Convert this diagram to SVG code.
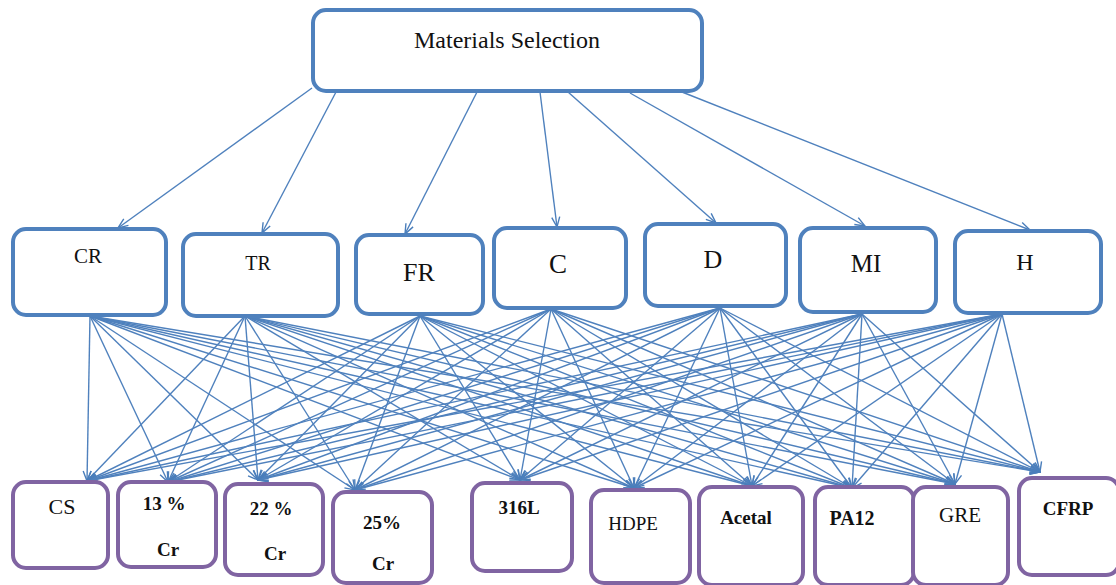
<svg xmlns="http://www.w3.org/2000/svg" width="1116" height="585" viewBox="0 0 1116 585">
<defs>
<marker id="arr" viewBox="0 0 12 10" refX="11" refY="5" markerWidth="12" markerHeight="10" markerUnits="userSpaceOnUse" orient="auto">
<path d="M1,1 L11,5 L1,9" fill="none" stroke="#4A7EBB" stroke-width="1.4"/>
</marker>
<style>
.crit{fill:#fff;stroke:#4F81BD;stroke-width:4}
.mat{fill:#fff;stroke:#8064A2;stroke-width:4}
.t{font-family:"Liberation Serif","Times New Roman",serif;fill:#111;text-anchor:middle}
.b{font-weight:bold}
#connectors line{stroke:#4F81BD;stroke-width:1.4;marker-end:url(#arr)}
</style>
</defs>
<rect width="1116" height="585" fill="#fff"/>
<g id="connectors">
<line x1="312" y1="88" x2="118" y2="228"/>
<line x1="336" y1="92" x2="262" y2="233"/>
<line x1="477" y1="92" x2="405" y2="234"/>
<line x1="540" y1="92" x2="557" y2="227"/>
<line x1="568" y1="92" x2="716" y2="223"/>
<line x1="630" y1="93" x2="865" y2="226"/>
<line x1="682" y1="92" x2="1030" y2="230"/>
<!-- CR -->
<line x1="90" y1="316" x2="87" y2="481"/>
<line x1="90" y1="316" x2="168" y2="482"/>
<line x1="90" y1="316" x2="258" y2="480"/>
<line x1="90" y1="316" x2="355" y2="490"/>
<line x1="90" y1="316" x2="520" y2="480"/>
<line x1="90" y1="316" x2="634" y2="488"/>
<line x1="90" y1="316" x2="752" y2="486"/>
<line x1="90" y1="316" x2="852" y2="488"/>
<line x1="90" y1="316" x2="955" y2="484"/>
<line x1="90" y1="316" x2="1040" y2="472"/>
<!-- TR -->
<line x1="245" y1="316" x2="87" y2="481"/>
<line x1="245" y1="316" x2="168" y2="482"/>
<line x1="245" y1="316" x2="258" y2="480"/>
<line x1="245" y1="316" x2="355" y2="490"/>
<line x1="245" y1="316" x2="520" y2="480"/>
<line x1="245" y1="316" x2="634" y2="488"/>
<line x1="245" y1="316" x2="752" y2="486"/>
<line x1="245" y1="316" x2="852" y2="488"/>
<line x1="245" y1="316" x2="955" y2="484"/>
<line x1="245" y1="316" x2="1040" y2="472"/>
<!-- FR -->
<line x1="420" y1="316" x2="87" y2="481"/>
<line x1="420" y1="316" x2="168" y2="482"/>
<line x1="420" y1="316" x2="258" y2="480"/>
<line x1="420" y1="316" x2="355" y2="490"/>
<line x1="420" y1="316" x2="520" y2="480"/>
<line x1="420" y1="316" x2="634" y2="488"/>
<line x1="420" y1="316" x2="752" y2="486"/>
<line x1="420" y1="316" x2="852" y2="488"/>
<line x1="420" y1="316" x2="955" y2="484"/>
<line x1="420" y1="316" x2="1040" y2="472"/>
<!-- C -->
<line x1="551" y1="309" x2="87" y2="481"/>
<line x1="551" y1="309" x2="168" y2="482"/>
<line x1="551" y1="309" x2="258" y2="480"/>
<line x1="551" y1="309" x2="355" y2="490"/>
<line x1="551" y1="309" x2="520" y2="480"/>
<line x1="551" y1="309" x2="634" y2="488"/>
<line x1="551" y1="309" x2="752" y2="486"/>
<line x1="551" y1="309" x2="852" y2="488"/>
<line x1="551" y1="309" x2="955" y2="484"/>
<line x1="551" y1="309" x2="1040" y2="472"/>
<!-- D -->
<line x1="720" y1="308" x2="87" y2="481"/>
<line x1="720" y1="308" x2="168" y2="482"/>
<line x1="720" y1="308" x2="258" y2="480"/>
<line x1="720" y1="308" x2="355" y2="490"/>
<line x1="720" y1="308" x2="520" y2="480"/>
<line x1="720" y1="308" x2="634" y2="488"/>
<line x1="720" y1="308" x2="752" y2="486"/>
<line x1="720" y1="308" x2="852" y2="488"/>
<line x1="720" y1="308" x2="955" y2="484"/>
<line x1="720" y1="308" x2="1040" y2="472"/>
<!-- MI -->
<line x1="862" y1="314" x2="87" y2="481"/>
<line x1="862" y1="314" x2="168" y2="482"/>
<line x1="862" y1="314" x2="258" y2="480"/>
<line x1="862" y1="314" x2="355" y2="490"/>
<line x1="862" y1="314" x2="520" y2="480"/>
<line x1="862" y1="314" x2="634" y2="488"/>
<line x1="862" y1="314" x2="752" y2="486"/>
<line x1="862" y1="314" x2="852" y2="488"/>
<line x1="862" y1="314" x2="955" y2="484"/>
<line x1="862" y1="314" x2="1040" y2="472"/>
<!-- H -->
<line x1="1002" y1="314" x2="87" y2="481"/>
<line x1="1002" y1="314" x2="168" y2="482"/>
<line x1="1002" y1="314" x2="258" y2="480"/>
<line x1="1002" y1="314" x2="355" y2="490"/>
<line x1="1002" y1="314" x2="520" y2="480"/>
<line x1="1002" y1="314" x2="634" y2="488"/>
<line x1="1002" y1="314" x2="752" y2="486"/>
<line x1="1002" y1="314" x2="852" y2="488"/>
<line x1="1002" y1="314" x2="955" y2="484"/>
<line x1="1002" y1="314" x2="1040" y2="472"/>
</g>
<g id="materials-selection">
<rect class="crit" x="313" y="10" width="389" height="81" rx="13"/>
<text class="t" x="507" y="48" font-size="24">Materials Selection</text>
</g>
<g id="CR"><rect class="crit" x="13" y="229" width="153" height="86" rx="13"/><text class="t" x="88" y="263" font-size="21">CR</text></g>
<g id="TR"><rect class="crit" x="183" y="234" width="155" height="82" rx="13"/><text class="t" x="258" y="270" font-size="20">TR</text></g>
<g id="FR"><rect class="crit" x="356" y="235" width="127" height="79" rx="13"/><text class="t" x="419" y="281" font-size="26">FR</text></g>
<g id="C"><rect class="crit" x="494" y="228" width="132" height="80" rx="13"/><text class="t" x="558" y="273" font-size="27">C</text></g>
<g id="D"><rect class="crit" x="645" y="224" width="141" height="82" rx="13"/><text class="t" x="713" y="268" font-size="26">D</text></g>
<g id="MI"><rect class="crit" x="800" y="228" width="136" height="84" rx="13"/><text class="t" x="866" y="272" font-size="25">MI</text></g>
<g id="H"><rect class="crit" x="955" y="231" width="146" height="82" rx="13"/><text class="t" x="1025" y="270" font-size="24">H</text></g>
<g id="CS"><rect class="mat" x="13" y="482" width="95" height="86" rx="13"/><text class="t" x="62" y="514" font-size="22">CS</text></g>
<g id="Cr13"><rect class="mat" x="118" y="482" width="98" height="85" rx="13"/><text class="t b" x="164" y="510" font-size="19">13 %</text><text class="t b" x="168" y="556" font-size="19">Cr</text></g>
<g id="Cr22"><rect class="mat" x="225" y="484" width="98" height="91" rx="13"/><text class="t b" x="271" y="515" font-size="19">22 %</text><text class="t b" x="275" y="560" font-size="19">Cr</text></g>
<g id="Cr25"><rect class="mat" x="333" y="492" width="99" height="91" rx="13"/><text class="t b" x="382" y="529" font-size="19">25%</text><text class="t b" x="383" y="570" font-size="19">Cr</text></g>
<g id="L316"><rect class="mat" x="472" y="483" width="100" height="88" rx="13"/><text class="t b" x="519" y="514" font-size="19">316L</text></g>
<g id="HDPE"><rect class="mat" x="591" y="490" width="99" height="93" rx="13"/><text class="t" x="633" y="530" font-size="19">HDPE</text></g>
<g id="Acetal"><rect class="mat" x="699" y="487" width="104" height="98" rx="13"/><text class="t b" x="746" y="524" font-size="19">Acetal</text></g>
<g id="PA12"><rect class="mat" x="815" y="487" width="99" height="98" rx="13"/><text class="t b" x="852" y="525" font-size="20">PA12</text></g>
<g id="GRE"><rect class="mat" x="913" y="487" width="95" height="98" rx="13"/><text class="t" x="960" y="522" font-size="21">GRE</text></g>
<g id="CFRP"><rect class="mat" x="1019" y="478" width="100" height="97" rx="13"/><text class="t b" x="1068" y="515" font-size="19">CFRP</text></g>
</svg>
